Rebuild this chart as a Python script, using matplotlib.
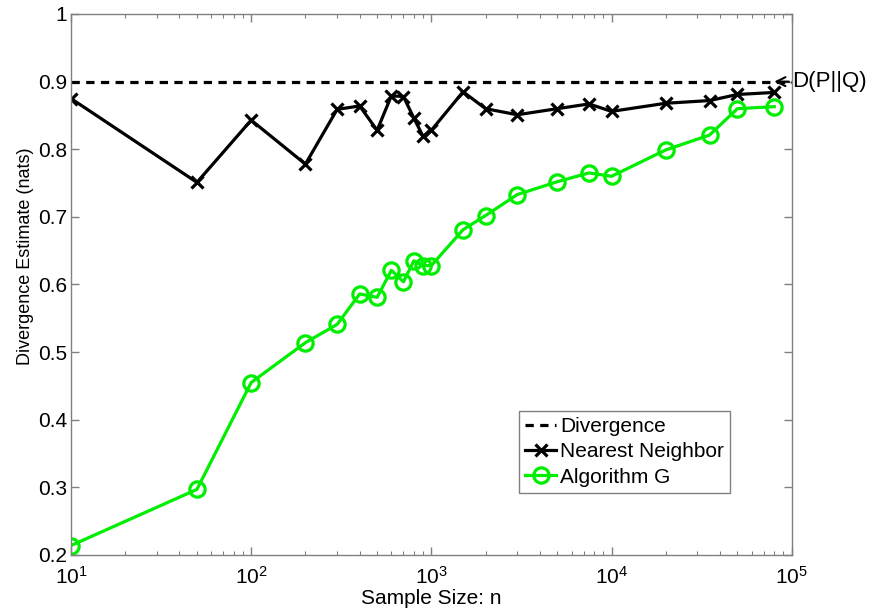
import matplotlib
matplotlib.use("Agg")
import matplotlib.pyplot as plt
from matplotlib.ticker import FixedLocator, FuncFormatter, LogLocator, NullFormatter

plt.rcParams['font.family'] = ['Liberation Sans', 'DejaVu Sans']
plt.rcParams['mathtext.fontset'] = 'custom'
plt.rcParams['mathtext.rm'] = 'Liberation Sans'
plt.rcParams['mathtext.it'] = 'Liberation Sans:italic'

sample_sizes = [10, 50, 100, 200, 300, 400, 500, 600, 700, 800, 900, 1000,
                1500, 2000, 3000, 5000, 7500, 10000, 20000, 35000, 50000, 80000]
nearest_neighbor = [0.875, 0.751, 0.843, 0.778, 0.859, 0.864, 0.828, 0.879, 0.878,
                    0.846, 0.819, 0.828, 0.885, 0.860, 0.851, 0.860, 0.867, 0.856,
                    0.868, 0.872, 0.881, 0.884]
algorithm_g = [0.214, 0.297, 0.455, 0.514, 0.541, 0.586, 0.581, 0.621, 0.604,
               0.635, 0.628, 0.628, 0.681, 0.702, 0.733, 0.752, 0.765, 0.760,
               0.799, 0.821, 0.860, 0.863]
divergence = 0.9
x_limits = [10, 1e5]
y_ticks = [0.2, 0.3, 0.4, 0.5, 0.6, 0.7, 0.8, 0.9, 1.0]

fig = plt.figure(figsize=(8.7, 6.14), dpi=100)
ax = fig.add_axes([0.0816, 0.0961, 0.8284, 0.8811])

ax.plot(x_limits, [divergence, divergence], '--', color='black', lw=2.3,
        dashes=(2.6, 2.0), label='Divergence')
ax.plot(sample_sizes, nearest_neighbor, '-x', color='black', lw=2.3,
        markersize=8, markeredgewidth=2.3, label='Nearest Neighbor')
ax.plot(sample_sizes, algorithm_g, '-o', color='#00ee00', lw=2.3,
        markersize=11, markeredgewidth=2.3, markerfacecolor='none',
        label='Algorithm G')

ax.set_xscale('log')
ax.set_xlim(*x_limits)
ax.set_ylim(0.2, 1.0)
ax.yaxis.set_major_locator(FixedLocator(y_ticks))
ax.yaxis.set_major_formatter(FuncFormatter(lambda v, p: '1' if abs(v - 1) < 1e-9 else f'{v:.1f}'))
ax.xaxis.set_major_locator(LogLocator(base=10, numticks=10))
ax.xaxis.set_minor_locator(LogLocator(base=10, subs=range(2, 10), numticks=50))
ax.xaxis.set_minor_formatter(NullFormatter())

for s in ax.spines.values():
    s.set_color('#808080')
    s.set_linewidth(1.0)
ax.tick_params(which='both', direction='in', top=True, right=True,
               color='#808080', labelsize=15, labelcolor='black')
ax.tick_params(which='major', length=6, width=1)
ax.tick_params(which='minor', length=3, width=0.8)
ax.tick_params(axis='x', pad=8)
ax.tick_params(axis='y', pad=3)

ax.set_xlabel('Sample Size: n', fontsize=15)
ax.set_ylabel('Divergence Estimate (nats)', fontsize=13)
ax.xaxis.set_label_coords(0.5, -0.062)
ax.yaxis.set_label_coords(-0.052, 0.553)

ax.annotate('D(P||Q)', xy=(sample_sizes[-1], divergence), xycoords='data',
            xytext=(1.0, divergence), textcoords=('axes fraction', 'data'),
            ha='left', va='center', fontsize=16,
            arrowprops=dict(arrowstyle='->', color='black', lw=1.5,
                            shrinkA=0, shrinkB=0), annotation_clip=False)

leg = ax.legend(loc='lower right', bbox_to_anchor=(0.915, 0.1146), fontsize=15,
                handlelength=1.5, handletextpad=0.2, borderpad=0.3,
                labelspacing=0.3, fancybox=False, framealpha=1,
                borderaxespad=0)
leg.get_frame().set_edgecolor('#808080')
leg.get_frame().set_linewidth(1.0)

fig.savefig('out.png', dpi=100)
